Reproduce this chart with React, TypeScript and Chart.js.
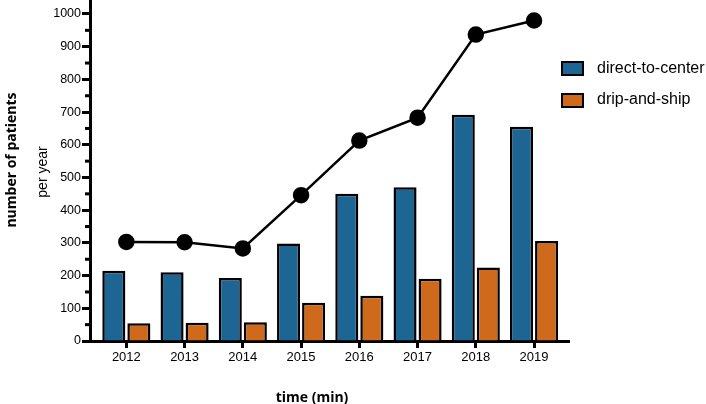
import React, { useEffect, useRef } from "react";
import { Chart, registerables } from "chart.js";

Chart.register(...registerables);

const YEARS = [2012, 2013, 2014, 2015, 2016, 2017, 2018, 2019];
const DIRECT = [215, 210, 193, 298, 450, 470, 692, 655];
const DRIP = [54, 56, 57, 117, 138, 190, 225, 306];
const TOTAL = [303, 302, 283, 446, 613, 683, 937, 980];
const Y_MAJOR = [0, 100, 200, 300, 400, 500, 600, 700, 800, 900, 1000];
const Y_MINOR = [50, 150, 250, 350, 450, 550, 650, 750, 850, 950];

const BLUE = "#1d6592";
const ORANGE = "#cf6a1c";
const FAMILY = "'Liberation Sans', Arial, sans-serif";

const pts = (vals: number[]) => YEARS.map((x, i) => ({ x, y: vals[i] }));

const minorTicks = {
  id: "minorTicks",
  afterDraw(chart: any) {
    const y = chart.scales.y;
    const ctx = chart.ctx;
    ctx.save();
    ctx.strokeStyle = "#000";
    ctx.lineWidth = 3;
    Y_MINOR.forEach((v) => {
      const py = y.getPixelForValue(v);
      ctx.beginPath();
      ctx.moveTo(y.right - 5, py);
      ctx.lineTo(y.right, py);
      ctx.stroke();
    });
    ctx.restore();
  },
};

export default function App() {
  const ref = useRef<HTMLCanvasElement | null>(null);

  useEffect(() => {
    if (!ref.current) return;
    const chart = new Chart(ref.current, {
      type: "bar",
      data: {
        datasets: [
          {
            type: "line",
            label: "total",
            data: pts(TOTAL),
            borderColor: "#000",
            backgroundColor: "#000",
            borderWidth: 2.5,
            pointRadius: 7,
            pointBackgroundColor: "#000",
            order: 0,
          } as any,
          {
            label: "direct-to-center",
            data: pts(DIRECT),
            backgroundColor: BLUE,
            borderColor: "#000",
            borderWidth: 2.5,
            barPercentage: 0.92,
            categoryPercentage: 0.86,
            order: 1,
          },
          {
            label: "drip-and-ship",
            data: pts(DRIP),
            backgroundColor: ORANGE,
            borderColor: "#000",
            borderWidth: 2.5,
            barPercentage: 0.92,
            categoryPercentage: 0.86,
            order: 1,
          },
        ],
      },
      options: {
        responsive: true,
        maintainAspectRatio: false,
        animation: false,
        layout: { autoPadding: false, padding: { left: 0, right: 137, top: 0, bottom: 0 } },
        plugins: { legend: { display: false }, tooltip: { enabled: false } },
        scales: {
          x: {
            type: "linear",
            min: 2011.376,
            max: 2019.6,
            offset: false,
            afterBuildTicks: (s: any) => {
              s.ticks = YEARS.map((v) => ({ value: v }));
            },
            afterFit: (s: any) => {
              s.height = 63;
              s.paddingLeft = 0;
              s.paddingRight = 0;
            },
            grid: {
              offset: false,
              drawOnChartArea: false,
              tickLength: 7,
              tickWidth: 3,
              tickColor: "#000",
            },
            border: { display: true, color: "#000", width: 3 },
            ticks: {
              color: "#000",
              font: { family: FAMILY, size: 13 },
              padding: 2,
              autoSkip: false,
              maxRotation: 0,
              callback: (v: any) => String(v),
            },
          } as any,
          y: {
            min: 0,
            max: 1042.8,
            afterBuildTicks: (s: any) => {
              s.ticks = Y_MAJOR.map((v) => ({ value: v }));
            },
            afterFit: (s: any) => {
              s.width = 90;
              s.paddingTop = 0;
              s.paddingBottom = 0;
            },
            grid: {
              drawOnChartArea: false,
              tickLength: 8,
              tickWidth: 3,
              tickColor: "#000",
            },
            border: { display: true, color: "#000", width: 3 },
            ticks: {
              color: "#000",
              font: { family: FAMILY, size: 12.5 },
              padding: 1,
              autoSkip: false,
              callback: (v: any) => String(v),
            },
          } as any,
        },
      },
      plugins: [minorTicks],
    });
    return () => chart.destroy();
  }, []);

  const legendBox = (color: string, top: number) => ({
    position: "absolute" as const,
    left: 561,
    top,
    width: 19,
    height: 11,
    background: color,
    border: "2px solid #000",
  });
  const legendText = (top: number) => ({
    position: "absolute" as const,
    left: 597,
    top,
    fontFamily: FAMILY,
    fontSize: 16,
    lineHeight: "18px",
    color: "#000",
    whiteSpace: "nowrap" as const,
  });

  return (
    <div style={{ position: "fixed", left: 0, top: 0, width: 706, height: 404, background: "#fff" }}>
      <canvas ref={ref} />
      <div
        style={{
          position: "absolute",
          left: 10,
          top: 160,
          transform: "translate(-50%, -50%) rotate(-90deg)",
          fontFamily: "'Open Sans', sans-serif",
          fontWeight: 700,
          fontSize: 14,
          whiteSpace: "nowrap",
          color: "#000",
        }}
      >
        number of patients
      </div>
      <div
        style={{
          position: "absolute",
          left: 42,
          top: 172,
          transform: "translate(-50%, -50%) rotate(-90deg)",
          fontFamily: FAMILY,
          fontSize: 14,
          whiteSpace: "nowrap",
          color: "#000",
        }}
      >
        per year
      </div>
      <div
        style={{
          position: "absolute",
          left: 312,
          top: 396,
          transform: "translate(-50%, -50%)",
          fontFamily: "'Open Sans', sans-serif",
          fontWeight: 700,
          fontSize: 14,
          whiteSpace: "nowrap",
          color: "#000",
        }}
      >
        time (min)
      </div>
      <div style={legendBox(BLUE, 61)} />
      <div style={legendText(59)}>direct-to-center</div>
      <div style={legendBox(ORANGE, 93)} />
      <div style={legendText(90)}>drip-and-ship</div>
    </div>
  );
}
